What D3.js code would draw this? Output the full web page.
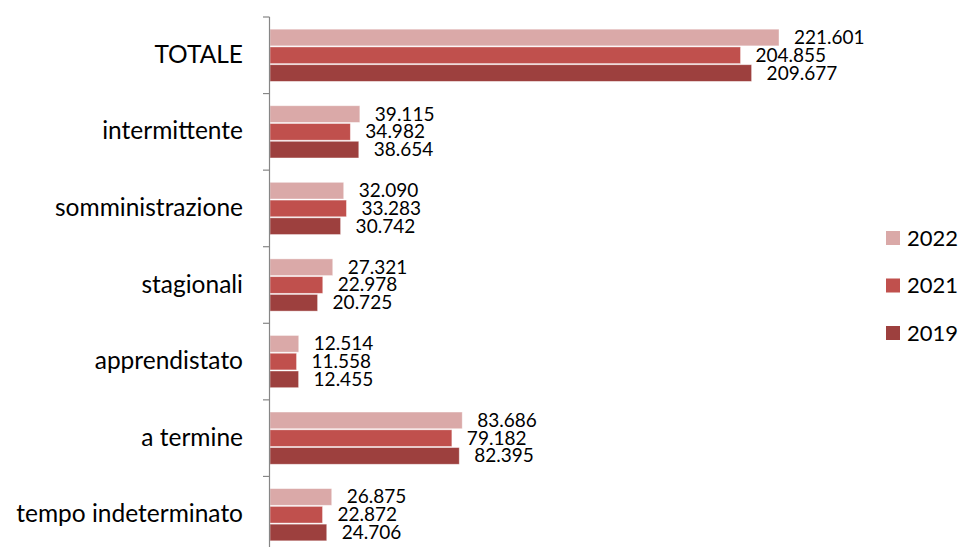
<!DOCTYPE html>
<html>
<head>
<meta charset="utf-8">
<script src="https://cdn.jsdelivr.net/npm/d3@7"></script>
<style>
  body { margin: 0; background: #fff; }
  text { font-family: Lato, "Open Sans", sans-serif; fill: #000; }
</style>
</head>
<body>
<div id="chart"></div>
<script>
const width = 963;
const height = 547;

// data (values in thousands)
const categories = ["TOTALE", "intermittente", "somministrazione", "stagionali", "apprendistato", "a termine", "tempo indeterminato"];
const years = ["2022", "2021", "2019"];
const values2022 = [221.601, 39.115, 32.090, 27.321, 12.514, 83.686, 26.875];
const values2021 = [204.855, 34.982, 33.283, 22.978, 11.558, 79.182, 22.872];
const values2019 = [209.677, 38.654, 30.742, 20.725, 12.455, 82.395, 24.706];
const colors = ["#DAA9A8", "#C0504D", "#9D403E"];

const series = { "2022": values2022, "2021": values2021, "2019": values2019 };

const svg = d3.select("#chart")
    .append("svg")
    .attr("width", width)
    .attr("height", height);

const x0 = 270;
const x = d3.scaleLinear()
    .domain([0, 221.601])
    .range([x0, 779]);

const y = d3.scaleBand()
    .domain(categories)
    .range([17, 553])
    .paddingInner(0.29)
    .paddingOuter(0.145);

const yInner = d3.scaleBand()
    .domain(years)
    .range([0, y.bandwidth()])
    .padding(0.06);

const color = d3.scaleOrdinal().domain(years).range(colors);

const fmt = v => v.toFixed(3);

// bars
const groups = svg.selectAll(".cat")
    .data(categories)
    .enter()
    .append("g")
    .attr("class", "cat")
    .attr("transform", d => `translate(0,${y(d)})`);

groups.each(function(cat, i) {
    const g = d3.select(this);
    years.forEach(yr => {
        const v = series[yr][i];
        g.append("rect")
            .attr("x", x(0))
            .attr("y", yInner(yr))
            .attr("width", x(v) - x(0))
            .attr("height", yInner.bandwidth())
            .attr("fill", color(yr))
            .attr("stroke", "#fff")
            .attr("stroke-opacity", 0.5)
            .attr("stroke-width", 0.8);
        g.append("text")
            .attr("x", x(v) + 15)
            .attr("y", yInner(yr) + yInner.bandwidth() / 2 + 6.5)
            .style("font-size", "19px")
            .text(fmt(v));
    });
});

// axis line and ticks at band boundaries
const step = y.step();
const axisG = svg.append("g");
axisG.append("line")
    .attr("x1", x0 - 0.5).attr("x2", x0 - 0.5)
    .attr("y1", 17).attr("y2", height)
    .attr("stroke", "#868686").attr("stroke-width", 1.2);
d3.range(categories.length + 1).forEach(k => {
    const yy = 17 + k * step;
    axisG.append("line")
        .attr("x1", x0 - 7).attr("x2", x0 - 0.5)
        .attr("y1", yy).attr("y2", yy)
        .attr("stroke", "#868686").attr("stroke-width", 1.2);
});

// category labels
svg.selectAll(".catlabel")
    .data(categories)
    .enter()
    .append("text")
    .attr("class", "catlabel")
    .attr("x", 243)
    .attr("y", d => y(d) + y.bandwidth() / 2 + 7.5)
    .attr("text-anchor", "end")
    .style("font-size", "24.5px")
    .text(d => d);

// legend
const legend = svg.append("g");
years.forEach((yr, i) => {
    const ly = 238 + i * 47.5;
    legend.append("rect")
        .attr("x", 886)
        .attr("y", ly - 7)
        .attr("width", 14)
        .attr("height", 14)
        .attr("fill", color(yr));
    legend.append("text")
        .attr("x", 907)
        .attr("y", ly + 7.5)
        .style("font-size", "22px")
        .text(yr);
});
</script>
</body>
</html>
